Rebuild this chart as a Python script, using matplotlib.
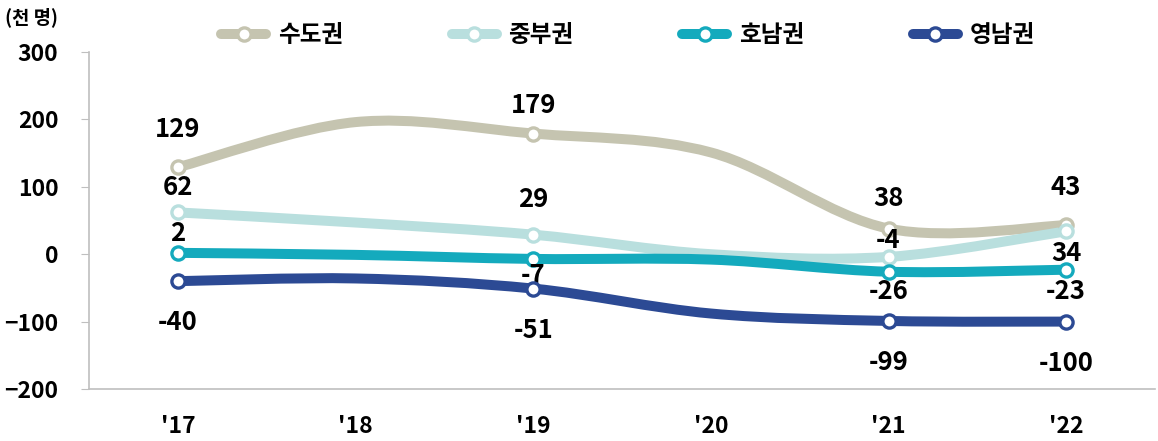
"""권역별 인구 순이동 추이 (천 명)"""
import numpy as np
import matplotlib
matplotlib.use("Agg")
import matplotlib.pyplot as plt
from matplotlib.path import Path
from matplotlib.patches import PathPatch
from matplotlib.lines import Line2D

plt.rcParams["font.family"] = ["Noto Sans CJK KR", "DejaVu Sans"]
plt.rcParams["font.weight"] = "bold"

# ==================== 데이터 ====================
years = ["'17", "'18", "'19", "'20", "'21", "'22"]
regions = ["수도권", "중부권", "호남권", "영남권"]
sudo = [129, 196, 179, 151, 38, 43]
jungbu = [62, 47, 29, 0, -4, 34]
honam = [2, -1, -7, -8, -26, -23]
yeongnam = [-40, -36, -51, -88, -99, -100]
series = [sudo, jungbu, honam, yeongnam]
labeled_idx = [0, 2, 4, 5]

# ==================== 스타일 ====================
colors = ["#C5C4B0", "#B9DFDE", "#14AABD", "#2C4A94"]
# 라벨 오프셋 (pt), labeled_idx 순서
label_dy = [
    [27, 20, 22, 27],
    [18, 25, 12, -16],
    [14, -12, -14, -16],
    [-30, -30, -30, -30],
]


def smooth_path(x, y, k=6.0):
    # Excel 스타일 곡선: Catmull-Rom -> cubic bezier
    pts = np.column_stack([x, y]).astype(float)
    n = len(pts)
    verts = [pts[0]]
    codes = [Path.MOVETO]
    for i in range(n - 1):
        p0 = pts[i - 1] if i > 0 else pts[i]
        p1 = pts[i]
        p2 = pts[i + 1]
        p3 = pts[i + 2] if i + 2 < n else pts[i + 1]
        c1 = p1 + (p2 - p0) / k
        c2 = p2 - (p3 - p1) / k
        verts += [c1, c2, p2]
        codes += [Path.CURVE4] * 3
    return Path(verts, codes)


fig = plt.figure(figsize=(11.58, 4.41), dpi=100)
ax = fig.add_axes([89 / 1158, 1 - 389 / 441, (1155 - 89) / 1158, (389 - 52) / 441])

x = np.arange(len(years))
for vals, col, name, dys in zip(series, colors, regions, label_dy):
    patch = PathPatch(smooth_path(x, vals), fill=False, edgecolor=col, lw=7.2,
                      capstyle="round", joinstyle="round")
    ax.add_patch(patch)
    xs = x[labeled_idx]
    ys = np.array(vals)[labeled_idx]
    ax.plot(xs, ys, "o", ms=9.5, mfc="white", mec=col, mew=2.4, zorder=3)
    for xi, yi, dy in zip(xs, ys, dys):
        ax.annotate(f"{yi}", (xi, yi), xytext=(0, dy), textcoords="offset points",
                    ha="center", va="center", fontsize=18.5, fontweight="bold")

ax.set_xlim(-0.5, len(years) - 0.5)
ax.set_ylim(-200, 300)
ax.set_yticks([-200, -100, 0, 100, 200, 300])
ax.set_xticks(x)
ax.set_xticklabels(years)
ax.tick_params(axis="y", length=6, color="#BFBFBF", pad=16, labelsize=16.5)
ax.tick_params(axis="x", length=0, pad=19, labelsize=16.5)
for lab in ax.get_xticklabels() + ax.get_yticklabels():
    lab.set_fontweight("bold")
for s in ["top", "right"]:
    ax.spines[s].set_visible(False)
ax.spines["left"].set_color("#BFBFBF")
ax.spines["bottom"].set_color("#BFBFBF")
ax.spines["left"].set_linewidth(1.2)
ax.spines["bottom"].set_linewidth(1.2)
ax.spines["bottom"].set_position(("data", -200))

fig.text(5 / 1158, 1 - 17 / 441, "(천 명)", fontsize=13.5, fontweight="bold", va="center")

handles = [Line2D([], [], color=c, lw=7.2, marker="o", ms=9.5, mfc="white", mec=c, mew=2.4,
                  solid_capstyle="round") for c in colors]
fig.legend(handles, regions, loc="center", bbox_to_anchor=(628 / 1158, 1 - 35 / 441), ncol=4,
           frameon=False, handlelength=1.9, handletextpad=0.5, columnspacing=4.6,
           prop={"weight": "bold", "size": 17})

fig.savefig("out.png", dpi=100)
